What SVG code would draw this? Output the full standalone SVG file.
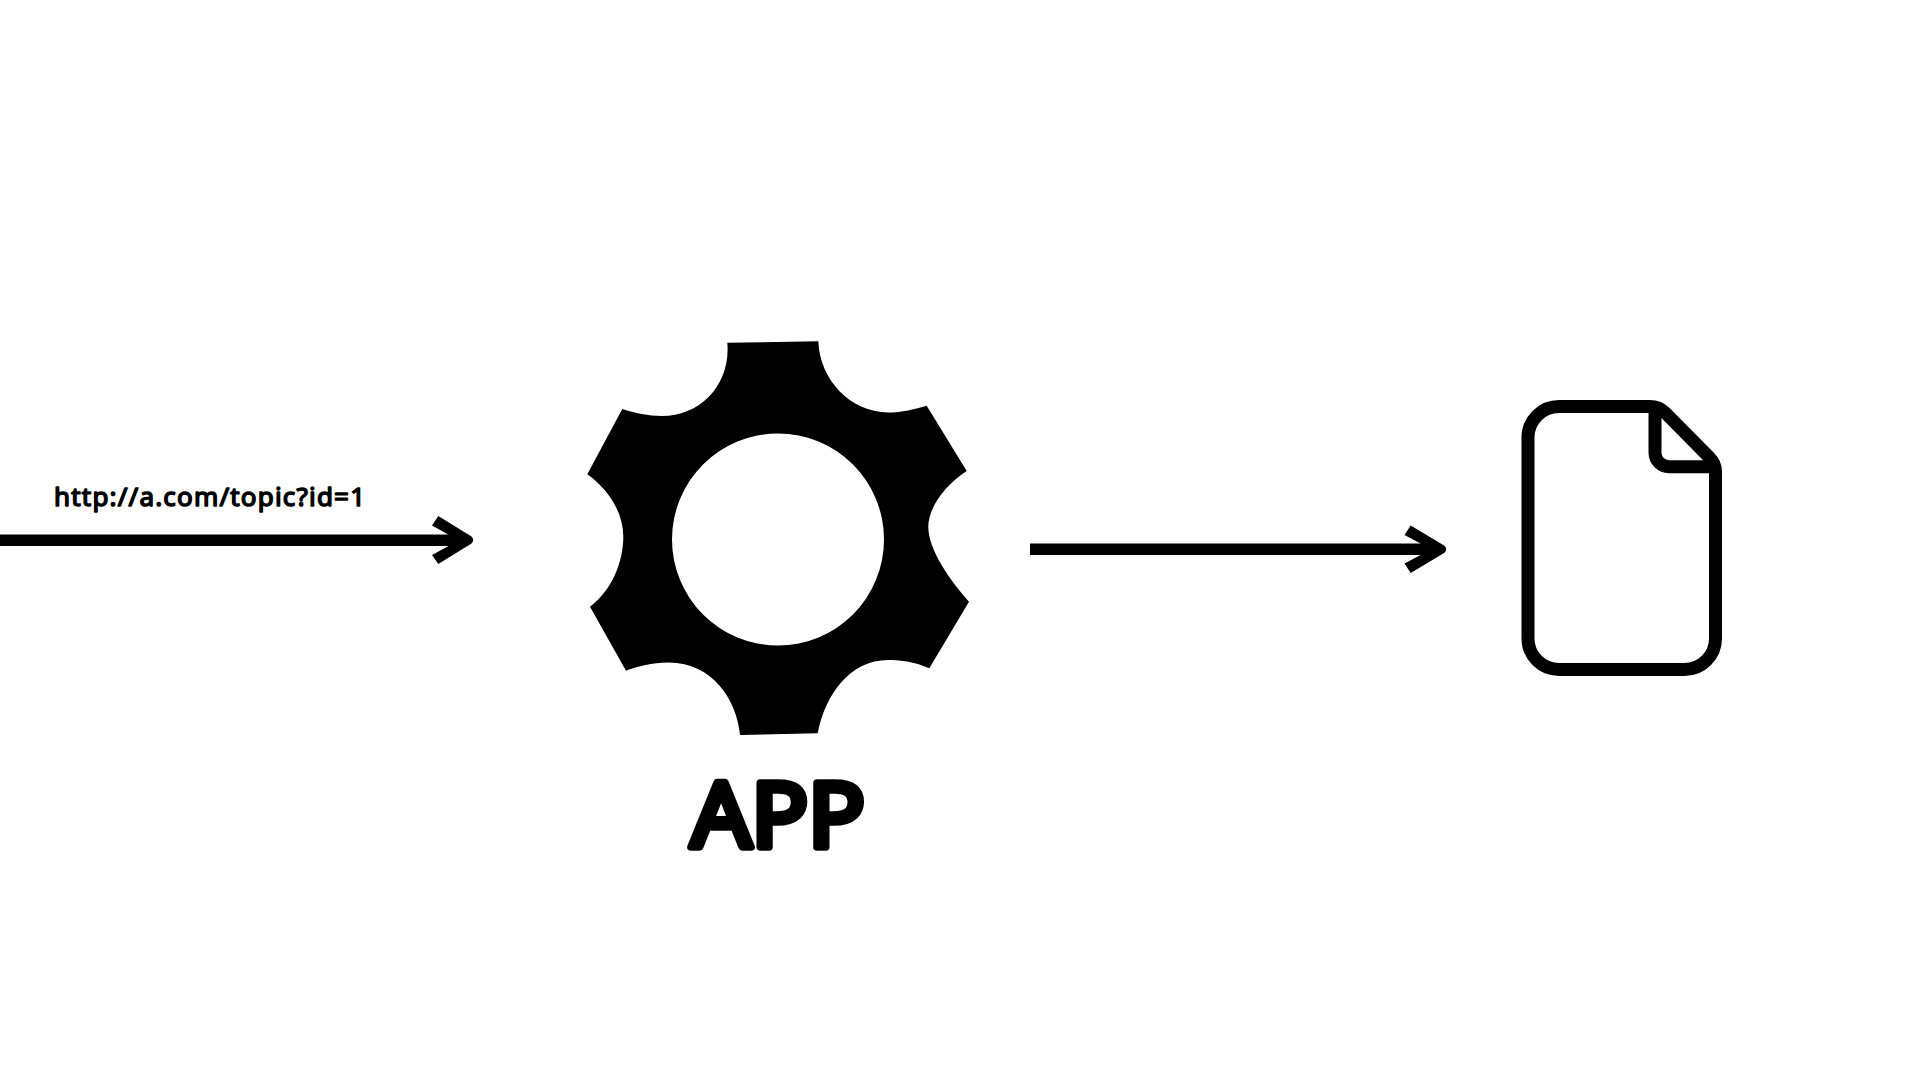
<svg xmlns="http://www.w3.org/2000/svg" width="1920" height="1080" viewBox="0 0 1920 1080">
<style>
.ln{fill:none;stroke:#000;stroke-width:11.500}
.lb{font-family:"Noto Sans","DejaVu Sans",sans-serif;fill:#000;stroke:#000;stroke-linejoin:round}
.fl{fill:none;stroke:#000;stroke-width:13}
</style>
<rect width="1920" height="1080" fill="#fff"/>
<g id="connectors">
<path class="ln" d="M0 540.300H460"/>
<path fill="#000" d="M438.300 516L471.500 536.500Q475 540 471.500 543.500L438.300 564L432 555L449 545.700V535L432 525.500Z"/>
<path class="ln" d="M1030 549.300H1434"/>
<path fill="#000" d="M1410.700 525.500L1444.500 545.800Q1448 549.300 1444.500 552.800L1410.700 573L1404.500 563.500L1421 554.800V543.800L1404.500 535Z"/>
</g>
<g id="url-label">
<text class="lb" x="54" y="506" font-size="26" font-weight="400" stroke-width="1.500" textLength="311" lengthAdjust="spacing">http://a.com/topic?id=1</text>
</g>
<g id="app">
<path fill="#000" fill-rule="evenodd" d="M727.300 342.700L818.300 341.300C820 380 850 412 888 412.500C902 412.500 915 409 926.700 405.700L966.700 471C945 485 928.300 508 928.300 526.700C928.300 550 950 580 969 601.700L929.300 668.300C915 662 902 660 888 660C850 660 825 695 817.700 733.300L740 735C737 700 712 662 668 662.500C652 663 638 666 626 670.700L590 606.700C612 590 623.300 562 623.300 536.700C623.300 512 608 489 587.300 474.300L622.300 409C635 413 648 416 662 416C700 416 731 385 727.300 342.700Z M778 433.500A106 106 0 1 0 778 645.500A106 106 0 1 0 778 433.500Z"/>
<text class="lb" x="778" y="847" font-size="90" font-weight="400" stroke-width="7.500" text-anchor="middle" textLength="174" lengthAdjust="spacingAndGlyphs">APP</text>
</g>
<g id="file">
<path class="fl" stroke-linejoin="round" d="M1559 406.500H1650C1656 406.500 1661 408.500 1665 412.500L1709 457C1713 461 1715.500 465 1715.500 471V638.500A31 31 0 0 1 1684.500 669.500H1559A31 31 0 0 1 1528 638.500V437.500A31 31 0 0 1 1559 406.500Z"/>
<path class="fl" d="M1655 408V453A14 14 0 0 0 1669 466.700H1715"/>
</g>
</svg>
